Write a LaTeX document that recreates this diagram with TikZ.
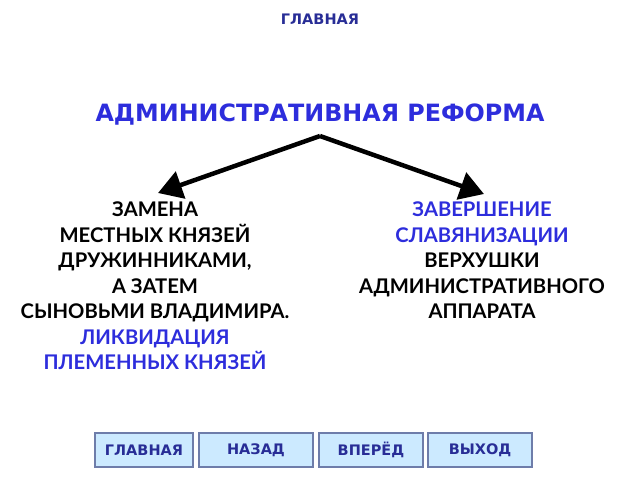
\documentclass[tikz,border=0pt]{standalone}
\usepackage{fontspec}
\setmainfont{DejaVu Sans}
\newfontfamily\bodyfont{Lato}
\usetikzlibrary{arrows.meta}
\definecolor{titleblue}{RGB}{45,45,220}
\definecolor{navy}{RGB}{40,45,150}
\definecolor{btnfill}{RGB}{204,234,255}
\definecolor{btnline}{RGB}{110,125,170}
\tikzset{
  btn/.style={draw=btnline,fill=btnfill,line width=1.2pt,minimum height=34pt,
    text=navy,font=\fontsize{14.5}{14.5}\selectfont\bfseries,inner sep=0pt},
  block/.style={align=center,font=\bodyfont\fontsize{20.2}{25.5}\selectfont\bfseries,inner sep=0pt},
  arr/.style={line width=4.5pt,-{Triangle[length=24pt,width=28pt]}}
}
\begin{document}
\begin{tikzpicture}[x=1pt,y=-1pt]
  \useasboundingbox (0,0) rectangle (640,480);

  \node (home) at (320,19) {\fontsize{14.5}{14.5}\selectfont\bfseries\color{navy}ГЛАВНАЯ};
  \node (title) at (320,115) {\fontsize{23.8}{23.8}\selectfont\bfseries\color{titleblue}АДМИНИСТРАТИВНАЯ РЕФОРМА};

  \coordinate (apex) at (320,136);
  \coordinate (lefttip) at (158,193);
  \coordinate (righttip) at (484,194);

  \begin{scope}[every node/.style={block}]
    \node[anchor=north] (left) at (155,202) {ЗАМЕНА\\ МЕСТНЫХ КНЯЗЕЙ\\ ДРУЖИННИКАМИ,\\ А ЗАТЕМ\\
      СЫНОВЬМИ ВЛАДИМИРА.\\ \textcolor{titleblue}{ЛИКВИДАЦИЯ}\\ \textcolor{titleblue}{ПЛЕМЕННЫХ КНЯЗЕЙ}};
    \node[anchor=north] (right) at (482,202) {\textcolor{titleblue}{ЗАВЕРШЕНИЕ}\\ \textcolor{titleblue}{СЛАВЯНИЗАЦИИ}\\
      ВЕРХУШКИ\\ АДМИНИСТРАТИВНОГО\\ АППАРАТА};
  \end{scope}

  \draw[arr] (apex) -- (lefttip);
  \draw[arr] (apex) -- (righttip);

  \begin{scope}[every node/.style={btn}]
    \node[minimum width=98pt] (bhome) at (144,450) {ГЛАВНАЯ};
    \node[minimum width=114pt] (bback) at (256,450) {НАЗАД};
    \node[minimum width=104pt] (bnext) at (371,450) {ВПЕРЁД};
    \node[minimum width=104pt] (bexit) at (480,450) {ВЫХОД};
  \end{scope}

\end{tikzpicture}
\end{document}
